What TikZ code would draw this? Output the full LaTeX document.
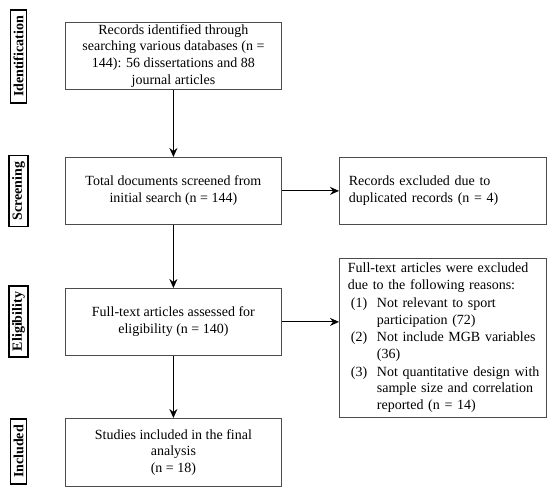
\documentclass[tikz,border=0pt]{standalone}
\usepackage{fontspec}
\setmainfont{Liberation Serif}
\usetikzlibrary{arrows.meta}
\begin{document}
\begin{tikzpicture}[x=1pt,y=-1pt,
  flowbox/.style={draw=black!70,line width=0.8pt,inner sep=0pt,anchor=north west,
    font=\fontsize{14}{16.7}\selectfont},
  stagebox/.style={draw=black,line width=1.3pt,rotate=90,inner xsep=6pt,inner ysep=3pt,
    font=\fontsize{14}{16.7}\selectfont\bfseries},
  arr/.style={line width=1.1pt,-{Stealth[length=9pt,width=8pt,inset=3pt]}}]
\useasboundingbox (0,0) rectangle (550,490);
% stage labels
\node[stagebox] (id) at (18.5,56.5) {Identification};
\node[stagebox] (sc) at (18.5,191) {Screening};
\node[stagebox] (el) at (18.5,321.5) {Eligibility};
\node[stagebox] (in) at (18.5,451.5) {Included};
% main boxes
\node[flowbox,minimum width=216pt,minimum height=67pt,align=center] (b1) at (65,22)
  {Records identified through\\searching various databases (n =\\144): 56 dissertations and 88\\journal articles};
\node[flowbox,minimum width=216pt,minimum height=67pt,align=center] (b2) at (65,157)
  {Total documents screened from\\initial search (n = 144)};
\node[flowbox,minimum width=207pt,minimum height=67pt,align=left,text width=188pt,inner xsep=9pt] (b3) at (339,157)
  {Records excluded due to\\duplicated records (n = 4)};
\node[flowbox,minimum width=216pt,minimum height=67pt,align=center] (b4) at (65,288)
  {Full-text articles assessed for\\eligibility (n = 140)};
\node[flowbox,minimum width=207pt,minimum height=159pt,align=left,text width=200pt,inner xsep=3.5pt] (b6) at (339,258)
  {\hspace*{5pt}Full-text articles were excluded\\
   \hspace*{5pt}due to the following reasons:\\[1pt]
   \hspace*{8pt}\makebox[26pt][l]{(1)}Not relevant to sport\\
   \hspace*{34pt}participation (72)\\[1pt]
   \hspace*{8pt}\makebox[26pt][l]{(2)}Not include MGB variables\\
   \hspace*{34pt}(36)\\[1pt]
   \hspace*{8pt}\makebox[26pt][l]{(3)}Not quantitative design with\\
   \hspace*{34pt}sample size and correlation\\
   \hspace*{34pt}reported (n = 14)};
\node[flowbox,minimum width=216pt,minimum height=68pt,align=center] (b5) at (65,418)
  {Studies included in the final\\analysis\\(n = 18)};
% arrows
\draw[arr] (b1.south) -- (b2.north);
\draw[arr] (b2.south) -- (b4.north);
\draw[arr] (b4.south) -- (b5.north);
\draw[arr] (b2.east) -- (b3.west);
\draw[arr] (b4.east) -- (b6.west |- b4.east);
\end{tikzpicture}
\end{document}
